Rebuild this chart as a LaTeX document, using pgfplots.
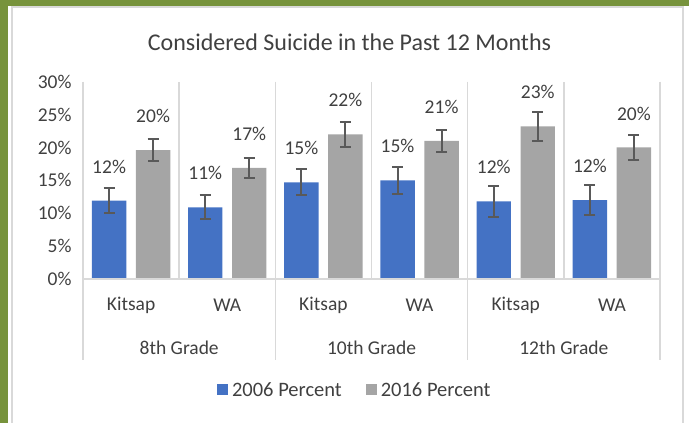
\documentclass[border=0pt]{standalone}
\usepackage{fontspec}
\setmainfont{Carlito}
\usepackage{pgfplots}
\usepackage{pgfplotstable}
\pgfplotsset{compat=1.18}

\definecolor{frame}{RGB}{119,147,60}
\definecolor{bluebar}{RGB}{68,114,196}
\definecolor{graybar}{RGB}{165,165,165}
\definecolor{sep}{RGB}{217,217,217}
\definecolor{txt}{RGB}{64,64,64}
\definecolor{errc}{RGB}{89,89,89}

% x = category slot (Kitsap/WA for 8th, 10th, 12th grade), y = percent, e = error
\pgfplotstableread{
x y    e
0 11.9 1.9
1 10.9 1.85
2 14.7 2.0
3 15.0 2.05
4 11.8 2.35
5 12.0 2.3
}\yearA
\pgfplotstableread{
x y    e
0 19.6 1.7
1 16.9 1.5
2 22.0 1.9
3 21.0 1.7
4 23.2 2.2
5 20.0 1.9
}\yearB

\newcommand\lblfont{\fontsize{19.5}{23}\selectfont}

\begin{document}
\begin{tikzpicture}[x=1pt,y=1pt]
\begin{axis}[
  scale only axis, width=577pt, height=197.3pt,
  xmin=-0.5, xmax=5.5, ymin=0, ymax=30,
  ybar=9.6pt, bar width=34.4pt,
  axis line style={draw=none}, major tick length=0pt,
  clip=false,
  ytick={0,5,...,30},
  yticklabels={0\%,5\%,10\%,15\%,20\%,25\%,30\%},
  yticklabel style={font=\lblfont, text=txt, xshift=-8pt},
  xtick={0,...,5},
  xticklabels={Kitsap,WA,Kitsap,WA,Kitsap,WA},
  xticklabel style={font=\lblfont, text=txt, anchor=center, yshift=-26pt},
  nodes near coords={\pgfmathprintnumber[fixed,precision=0,assume math mode=true]{\pgfplotspointmeta}\%},
  every node near coord/.append style={anchor=center, yshift=34pt, font=\lblfont, text=txt},
  legend style={at={(0.452,-0.5626)}, anchor=center, draw=none, fill=none,
    legend columns=2, font=\fontsize{20.5}{24}\selectfont, text=txt},
  legend image code/.code={\path (-22pt,0pt) (13pt,0pt);
    \fill[#1] (0pt,-5pt) rectangle (11pt,6pt);},
]
\addplot[fill=bluebar, draw=none,
  error bars/.cd, y dir=both, y explicit,
  error bar style={errc, line width=2pt},
  error mark options={rotate=90, errc, line width=2pt, mark size=5.5pt}]
  table[x=x, y=y, y error=e] {\yearA};
\addplot[fill=graybar, draw=none,
  error bars/.cd, y dir=both, y explicit,
  error bar style={errc, line width=2pt},
  error mark options={rotate=90, errc, line width=2pt, mark size=5.5pt}]
  table[x=x, y=y, y error=e] {\yearB};
\legend{2006 Percent, 2016 Percent}

% axis line and separators
\draw[sep, line width=1.5pt] (axis cs:-0.5,0) -- (axis cs:5.5,0);
\draw[sep, line width=1.5pt] (axis cs:0.5,0) -- (axis cs:0.5,30);
\draw[sep, line width=1.5pt] (axis cs:2.5,0) -- (axis cs:2.5,30);
\draw[sep, line width=1.5pt] (axis cs:4.5,0) -- (axis cs:4.5,30);
\draw[sep, line width=1.5pt] (axis cs:-0.5,30) -- ([yshift=-81pt]axis cs:-0.5,0);
\draw[sep, line width=1.5pt] (axis cs:1.5,30) -- ([yshift=-81pt]axis cs:1.5,0);
\draw[sep, line width=1.5pt] (axis cs:3.5,30) -- ([yshift=-81pt]axis cs:3.5,0);
\draw[sep, line width=1.5pt] (axis cs:5.5,30) -- ([yshift=-81pt]axis cs:5.5,0);

% group labels
\node[font=\lblfont, text=txt] at ([yshift=-69pt]axis cs:0.5,0) {8th Grade};
\node[font=\lblfont, text=txt] at ([yshift=-69pt]axis cs:2.5,0) {10th Grade};
\node[font=\lblfont, text=txt] at ([yshift=-69pt]axis cs:4.5,0) {12th Grade};

\coordinate (O) at (rel axis cs:0,0);
\end{axis}
\pgfresetboundingbox

% chart frame, placed relative to the plot area's lower left corner
\begin{scope}[shift={(O)}]
\useasboundingbox (-83,-144) rectangle (606,279);
\fill[frame] (-83,-144) rectangle (-75,279);
\fill[frame] (-83,273) rectangle (606,279);
\draw[sep, line width=1.2pt] (-71,-144) -- (-71,272) -- (600,272) -- (600,-144);
\node[font=\fontsize{24}{28}\selectfont, text=txt] at (266.5,237) {Considered Suicide in the Past 12 Months};
\end{scope}
\end{tikzpicture}
\end{document}
